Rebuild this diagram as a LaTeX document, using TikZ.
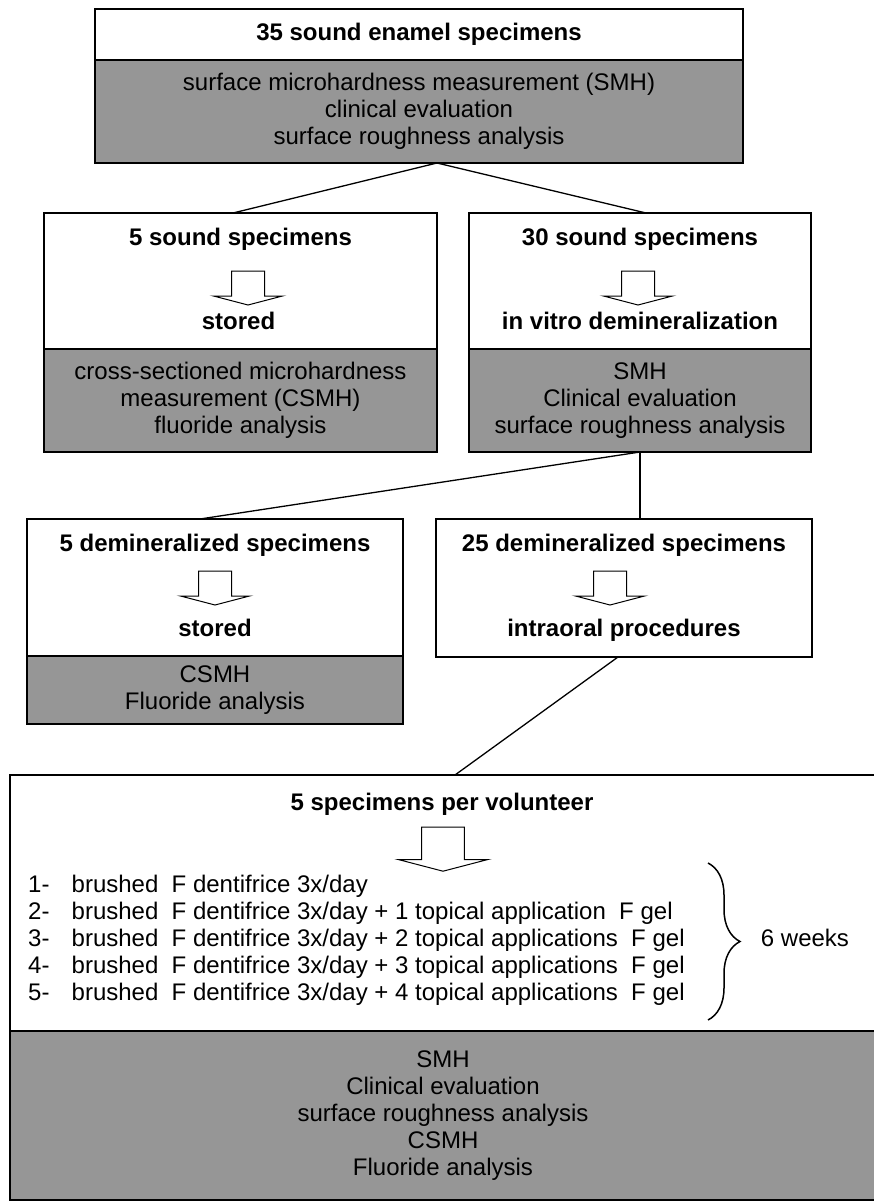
\documentclass[tikz,border=0pt]{standalone}
\usepackage{fontspec}
\setmainfont{Liberation Sans}
\usetikzlibrary{calc,decorations.pathreplacing}
\definecolor{shade}{HTML}{969696}
\newcommand{\fs}{\fontsize{24}{27}\selectfont}
\tikzset{
  wbox/.style={draw=black, fill=white, line width=1.3pt, inner sep=0pt,
               outer sep=0pt, anchor=north west},
  gbox/.style={wbox, fill=shade, align=center, font=\fs},
  heavy/.style={line width=2pt},
  ttl/.style={font=\fs\bfseries, anchor=base, inner sep=0pt},
  lbl/.style={font=\fs, anchor=base west, inner sep=0pt},
  conn/.style={line width=1.3pt},
  downarr/.pic={\draw[line width=1pt, fill=white] (-16.5,0) -- (16.5,0) -- (16.5,25)
     -- (34.5,25) -- (0,34) -- (-34.5,25) -- (-16.5,25) -- cycle;}
}
\begin{document}
\begin{tikzpicture}[x=1pt,y=-1pt]
  \fill[white] (0,0) rectangle (874,1201);
  \useasboundingbox (0,0) rectangle (874,1201);

  % all specimens
  \node[wbox, heavy, minimum width=648pt, minimum height=51pt, font=\fs\bfseries] (top) at (95,9)
     {35 sound enamel specimens};
  \node[gbox, heavy, minimum width=648pt, minimum height=103pt] (topg) at (95,60)
     {surface microhardness measurement (SMH)\\clinical evaluation\\surface roughness analysis};

  % sound
  \node[wbox, minimum width=393pt, minimum height=136pt] (b2l) at (44,213) {};
  \node[gbox, minimum width=393pt, minimum height=103pt] (b2lg) at (44,349)
     {cross-sectioned microhardness\\measurement (CSMH)\\fluoride analysis};
  \node[ttl] (b2lt) at (240.5,245.5) {5 sound specimens};
  \pic at (248,271) {downarr};
  \node[ttl] (b2lb) at (238.5,329) {stored};

  \node[wbox, minimum width=342pt, minimum height=136pt] (b2r) at (469,213) {};
  \node[gbox, minimum width=342pt, minimum height=103pt] (b2rg) at (469,349)
     {SMH\\Clinical evaluation\\surface roughness analysis};
  \node[ttl] (b2rt) at (640,245.5) {30 sound specimens};
  \pic at (638,271) {downarr};
  \node[ttl] (b2rb) at (640,329) {in vitro demineralization};

  % demineralized
  \node[wbox, minimum width=376pt, minimum height=137pt] (b3l) at (27,519) {};
  \node[gbox, minimum width=376pt, minimum height=68pt] (b3lg) at (27,656)
     {CSMH\\Fluoride analysis};
  \node[ttl] (b3lt) at (215,551.5) {5 demineralized specimens};
  \pic at (215,571) {downarr};
  \node[ttl] (b3lb) at (215,636) {stored};

  \node[wbox, minimum width=376pt, minimum height=138pt] (b3r) at (436,519) {};
  \node[ttl] (b3rt) at (624,551.5) {25 demineralized specimens};
  \pic at (610,571) {downarr};
  \node[ttl] (b3rb) at (624,636) {intraoral procedures};

  % volunteers
  \node[wbox, heavy, minimum width=866pt, minimum height=256pt] (b4) at (10,775) {};
  \node[gbox, heavy, minimum width=866pt, minimum height=169pt] (b4g) at (10,1031)
     {SMH\\Clinical evaluation\\surface roughness analysis\\CSMH\\Fluoride analysis};
  \node[ttl] (b4t) at (442,810.5) {5 specimens per volunteer};
  \pic[scale=1.3] at (443,827) {downarr};
  \node[lbl] (r1) at (28,892.5) {\makebox[43.5pt][l]{1-}brushed\ \ F dentifrice 3x/day};
  \node[lbl] (r2) at (28,919.5) {\makebox[43.5pt][l]{2-}brushed\ \ F dentifrice 3x/day + 1 topical application\ \ F gel};
  \node[lbl] (r3) at (28,946.5) {\makebox[43.5pt][l]{3-}brushed\ \ F dentifrice 3x/day + 2 topical applications\ \ F gel};
  \node[lbl] (r4) at (28,973.5) {\makebox[43.5pt][l]{4-}brushed\ \ F dentifrice 3x/day + 3 topical applications\ \ F gel};
  \node[lbl] (r5) at (28,1000.5) {\makebox[43.5pt][l]{5-}brushed\ \ F dentifrice 3x/day + 4 topical applications\ \ F gel};
  \coordinate (brtop) at (708,863);
  \coordinate (brbot) at (708,1020);
  \draw[line width=1.5pt, decorate, decoration={brace, amplitude=32pt}] (brtop) -- (brbot);
  \node[ttl] (weeks) at (805,946.5) {\mdseries 6 weeks};

  % links
  \draw[conn] ($(topg.south)+(18,0)$) -- ($(b2l.north)+(-7.5,0)$);
  \draw[conn] ($(topg.south)+(18,0)$) -- ($(b2r.north)+(6,0)$);
  \draw[conn] (b2rg.south) -- ($(b3l.north)+(-15,0)$);
  \draw[conn] (b2rg.south) -- (b2rg.south |- b3r.north);
  \draw[conn] ($(b3r.south)+(-6,0)$) -- ($(b4.north)+(12,0)$);
\end{tikzpicture}
\end{document}
